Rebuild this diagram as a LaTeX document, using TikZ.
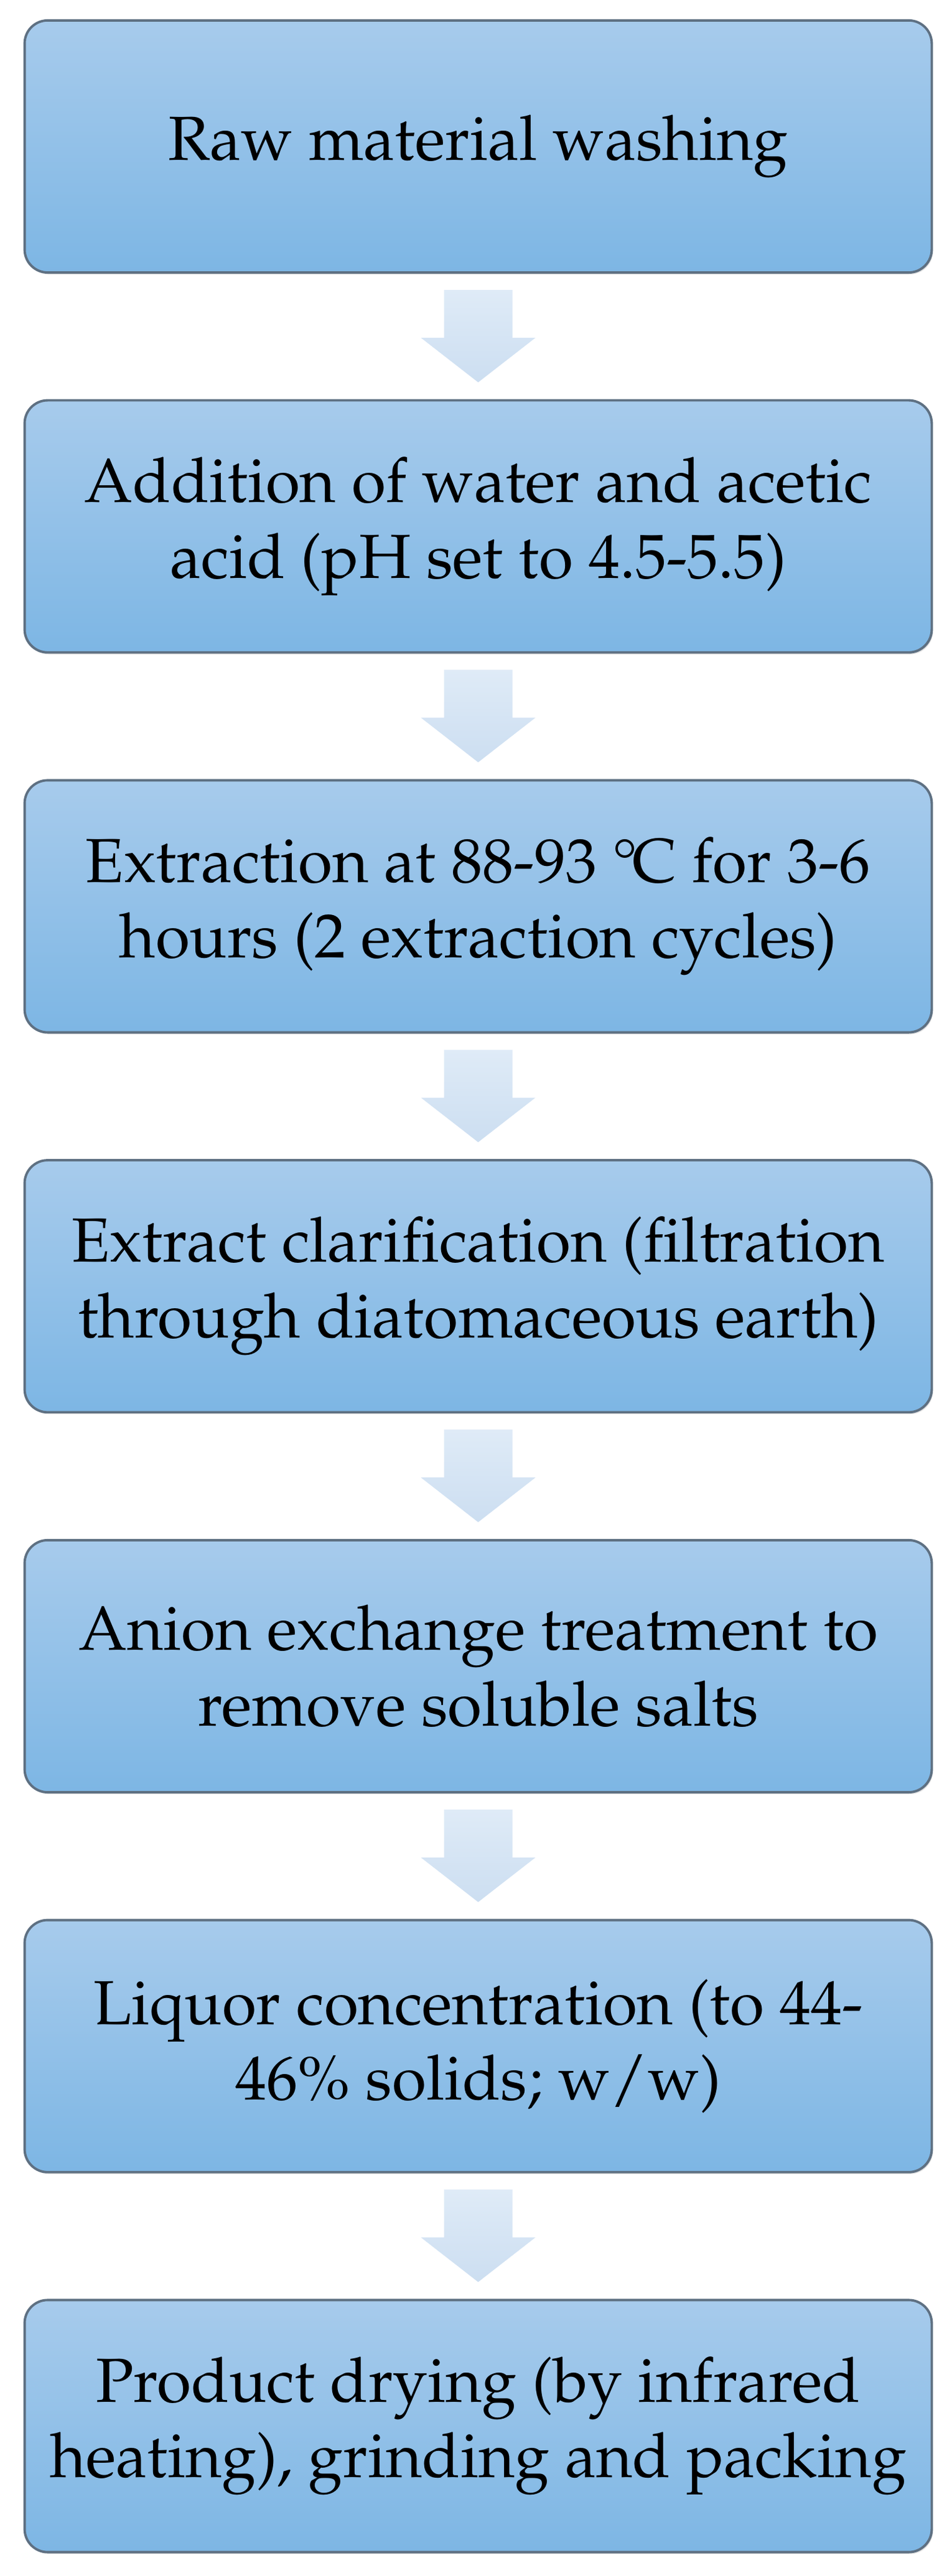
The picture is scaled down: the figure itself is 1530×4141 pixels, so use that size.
\documentclass[tikz,border=0pt]{standalone}
\usepackage[T1]{fontenc}
\usepackage{mathpazo}
\usetikzlibrary{calc,shadows}
\definecolor{boxtop}{RGB}{167,203,236}
\definecolor{boxbot}{RGB}{125,182,228}
\definecolor{boxline}{RGB}{94,112,130}
\definecolor{arwtop}{RGB}{223,235,247}
\definecolor{arwbot}{RGB}{204,222,241}
\newcommand{\flowarw}[2]{%
  \shade[top color=arwtop,bottom color=arwbot]
    ($(#1.south)+(-55,-26)$) -- ($(#1.south)+(55,-26)$) -- ($(#1.south)+(55,-103)$)
    -- ($(#1.south)+(92,-103)$) -- ($(#2.north)+(0,27)$) -- ($(#1.south)+(-92,-103)$)
    -- ($(#1.south)+(-55,-103)$) -- cycle;}

\begin{document}
\begin{tikzpicture}[x=.01cm,y=.01cm,
  stepbox/.style={rectangle,rounded corners=.37cm,draw=boxline,line width=1.1pt,
    top color=boxtop,bottom color=boxbot,minimum width=14.57cm,minimum height=4.05cm,
    align=center,font=\fontsize{28.5}{34.6}\selectfont,
    drop shadow={opacity=.25,shadow xshift=.02cm,shadow yshift=-.03cm}}]
\useasboundingbox (0,0) rectangle (1530,4141);
%process steps
\node[stepbox] (wash)  at (768.5,3905.5) {Raw material washing};
\node[stepbox] (acid)  at (768.5,3294.8) {Addition of water and acetic\\acid (pH set to 4.5-5.5)};
\node[stepbox] (extr)  at (768.5,2684)   {Extraction at 88-93 \textdegree\kern-.08em C for 3-6\\hours (2 extraction cycles)};
\node[stepbox] (clar)  at (768.5,2073.3) {Extract clarification (filtration\\through diatomaceous earth)};
\node[stepbox] (anion) at (768.5,1462.5) {Anion exchange treatment to\\remove soluble salts};
\node[stepbox] (conc)  at (768.5,851.8)  {Liquor concentration (to 44-\\46\% solids; w/w)};
\node[stepbox] (dry)   at (768.5,241)    {Product drying (by infrared\\heating), grinding and packing};
%block arrows
\flowarw{wash}{acid}
\flowarw{acid}{extr}
\flowarw{extr}{clar}
\flowarw{clar}{anion}
\flowarw{anion}{conc}
\flowarw{conc}{dry}
\end{tikzpicture}
\end{document}
